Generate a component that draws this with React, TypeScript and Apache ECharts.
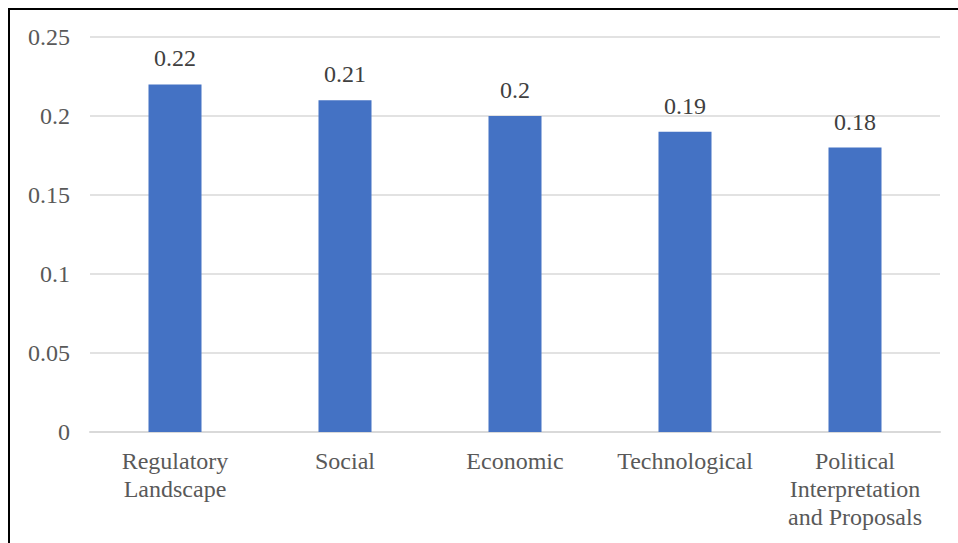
import React, { useEffect, useRef } from "react";
import * as echarts from "echarts";

const categories = [
  "Regulatory\nLandscape",
  "Social",
  "Economic",
  "Technological",
  "Political\nInterpretation\nand Proposals",
];
const values = [0.22, 0.21, 0.2, 0.19, 0.18];
const yTicks = { min: 0, max: 0.25, interval: 0.05 };

export default function App() {
  const ref = useRef<HTMLDivElement>(null);
  useEffect(() => {
    if (!ref.current) return;
    const chart = echarts.init(ref.current, undefined, { renderer: "svg" });
    const font = "Liberation Serif";
    chart.setOption({
      animation: false,
      backgroundColor: "#ffffff",
      textStyle: { fontFamily: font },
      grid: { left: 80, right: 18, top: 27, bottom: 111 },
      xAxis: {
        type: "category",
        data: categories,
        axisLine: { show: true, lineStyle: { color: "#D9D9D9", width: 2 } },
        axisTick: { show: false },
        axisLabel: {
          color: "#595959",
          fontFamily: font,
          fontSize: 24,
          lineHeight: 28,
          margin: 15,
          interval: 0,
        },
      },
      yAxis: {
        type: "value",
        min: yTicks.min,
        max: yTicks.max,
        interval: yTicks.interval,
        axisLine: { show: false },
        axisTick: { show: false },
        splitLine: { lineStyle: { color: "#D9D9D9", width: 1.5 } },
        axisLabel: {
          color: "#595959",
          fontFamily: font,
          fontSize: 24,
          margin: 20,
          formatter: (v: number) => String(parseFloat(v.toFixed(2))),
        },
      },
      series: [
        {
          type: "bar",
          data: values,
          barWidth: 53,
          itemStyle: { color: "#4472C4" },
          label: {
            show: true,
            position: "top",
            distance: 14,
            color: "#404040",
            fontFamily: font,
            fontSize: 24,
          },
        },
      ],
    });
    return () => chart.dispose();
  }, []);
  return (
    <div
      style={{
        position: "fixed",
        left: 8,
        top: 8,
        width: 950,
        height: 535,
        boxSizing: "border-box",
        borderTop: "2px solid #000",
        borderLeft: "2px solid #000",
        background: "#fff",
      }}
    >
      <div ref={ref} style={{ width: 948, height: 533 }} />
    </div>
  );
}
